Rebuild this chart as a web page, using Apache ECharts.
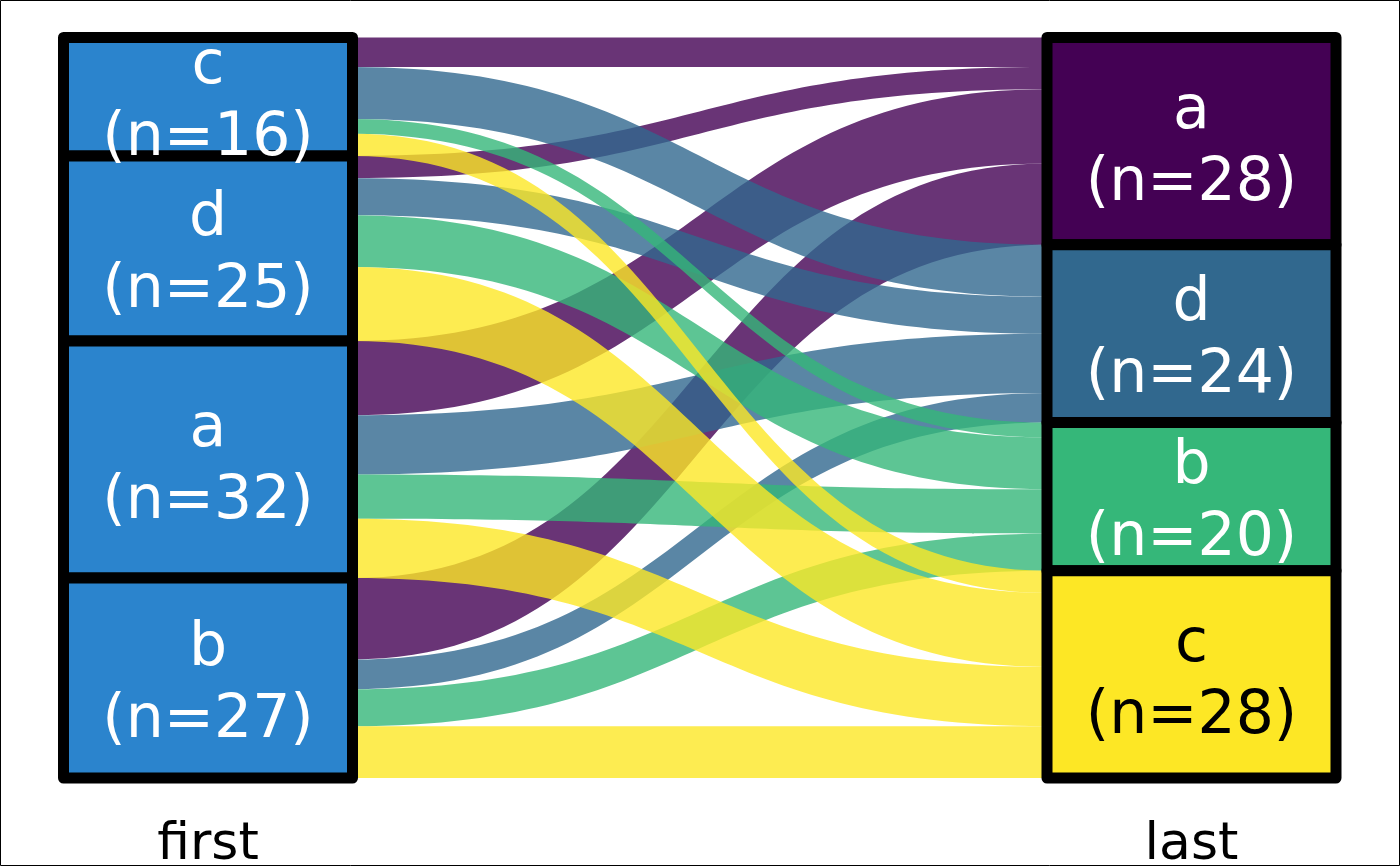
<!DOCTYPE html>
<html>
<head>
<meta charset="utf-8">
<script src="https://cdn.jsdelivr.net/npm/echarts@6/dist/echarts.min.js"></script>
<style>
html,body{margin:0;padding:0;background:#fff;}
#chart{width:1400px;height:866px;}
</style>
</head>
<body>
<div id="chart"></div>
<script>
// Data
var axisNames = ['first', 'last'];
var firstCats = ['c', 'd', 'a', 'b'];
var lastCats = ['a', 'd', 'b', 'c'];
// flow counts: rows = first category (c, d, a, b), columns = last category (a, d, b, c)
var flowC = [4, 7, 2, 3];
var flowD = [3, 5, 7, 10];
var flowA = [10, 8, 6, 8];
var flowB = [11, 4, 5, 7];
var flowRows = [flowC, flowD, flowA, flowB];

// Styles
var lastColors = { a: '#440154', d: '#31688E', b: '#35B779', c: '#FDE725' };
var firstColor = '#2B84CD';
var FONT = 'DejaVu Sans';

var L = { left: 63.5, right: 64, top: 37.5, bottom: 88, nodeWidth: 289 };

var nodes = [];
var links = [];
firstCats.forEach(function (c, i) {
  var total = flowRows[i].reduce(function (s, v) { return s + v; }, 0);
  nodes.push({
    name: 'first:' + c, cat: c, n: total,
    itemStyle: { color: firstColor },
    label: { color: '#ffffff' }
  });
});
lastCats.forEach(function (c, j) {
  var total = 0;
  flowRows.forEach(function (r) { total += r[j]; });
  nodes.push({
    name: 'last:' + c, cat: c, n: total,
    itemStyle: { color: lastColors[c] },
    label: { color: c === 'c' ? '#000000' : '#ffffff' }
  });
});
// draw order: flows grouped by last category (a bottom ... c top)
lastCats.forEach(function (lc, j) {
  firstCats.forEach(function (fc, i) {
    links.push({
      source: 'first:' + fc, target: 'last:' + lc, value: flowRows[i][j],
      lineStyle: { color: lastColors[lc] }
    });
  });
});

var chart = echarts.init(document.getElementById('chart'), null, { renderer: 'canvas' });
var W = 1400, H = 866;
var leftCenter = L.left + L.nodeWidth / 2;
var rightCenter = W - L.right - L.nodeWidth / 2;

chart.setOption({
  backgroundColor: '#ffffff',
  animation: false,
  series: [{
    type: 'sankey',
    left: L.left, right: L.right, top: L.top, bottom: L.bottom,
    nodeWidth: L.nodeWidth,
    nodeGap: 0,
    layoutIterations: 0,
    draggable: false,
    emphasis: { disabled: true },
    data: nodes,
    links: links,
    itemStyle: { borderColor: '#000000', borderWidth: 11, borderJoin: 'round' },
    lineStyle: { opacity: 0.8, curveness: 0.5 },
    label: {
      show: true,
      position: 'inside',
      offset: [0, 7],
      fontFamily: FONT,
      fontSize: 60,
      lineHeight: 72,
      align: 'center',
      formatter: function (p) { return p.data.cat + '\n(n=' + p.data.n + ')'; }
    }
  }],
  graphic: [
    { type: 'rect', shape: { x: 0.5, y: 0.5, width: W - 1, height: H - 1 },
      style: { fill: null, stroke: '#000', lineWidth: 1 }, silent: true, z: 100 },
    { type: 'text', x: leftCenter, y: 871,
      style: { text: axisNames[0], font: '52px "DejaVu Sans"', fill: '#000', textAlign: 'center', textVerticalAlign: 'bottom' } },
    { type: 'text', x: rightCenter, y: 871,
      style: { text: axisNames[1], font: '52px "DejaVu Sans"', fill: '#000', textAlign: 'center', textVerticalAlign: 'bottom' } }
  ]
});
</script>
</body>
</html>
